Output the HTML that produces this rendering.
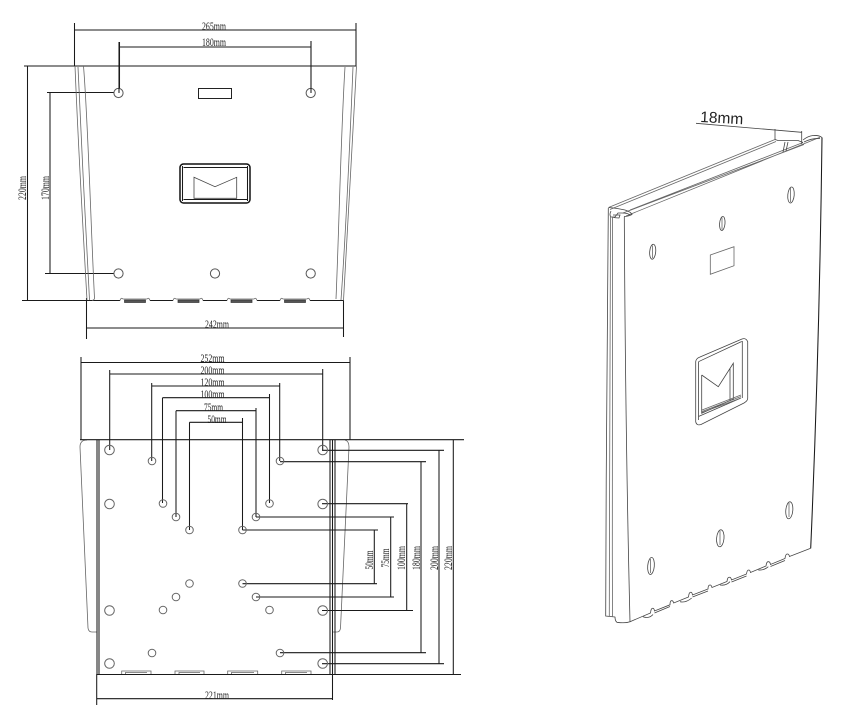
<!DOCTYPE html>
<html><head><meta charset="utf-8"><style>
html,body{margin:0;padding:0;background:#fff}
svg{display:block;filter:blur(.3px)}
text{font-family:"Liberation Serif",serif;fill:#222;font-size:12px}
.d{stroke:#1a1a1a;stroke-width:1.05;fill:none}
.g{stroke:#666;stroke-width:.8;fill:none}
.h{stroke:#555;stroke-width:1;fill:#fff}
.m{stroke:#444;stroke-width:.8;fill:none}
</style></head><body>
<svg width="849" height="720" viewBox="0 0 849 720" xmlns="http://www.w3.org/2000/svg">
<rect width="849" height="720" fill="#fff"/>

<!-- Top view -->
<path class="d" d="M74.5 23V66M356 23V66M74.5 30H356M119.500 42V91M311 41V91M119.500 47H311"/>
<path class="d" d="M24 66H356M22 300.500H120M150 300.500H173M203 300.500H227M257 300.500H280M310 300.500H343"/>
<path class="d" d="M27.500 66V300.500M50 92.500V273.500M47 92.500H118M45 273.500H118"/>
<path class="d" d="M86.500 298V339M343.500 300V337M86.500 328H343.500"/>
<path class="g" d="M75 66C78 140 83 230 87 300M78 67C81 140 86 230 89.500 300M83.500 66C88 120 91 230 94.500 298Q94.500 300 92 300.500"/>
<path class="g" d="M356.500 66C352 140 348 230 343.500 300.500M353 67C350 140 346 230 341 300M345 67C341 130 339 230 336 299"/>
<g class="h"><circle cx="118.500" cy="93" r="4.600"/><circle cx="310.700" cy="93" r="4.600"/><circle cx="118.500" cy="273.500" r="4.600"/><circle cx="215" cy="273.500" r="4.600"/><circle cx="310.700" cy="273.500" r="4.600"/></g>
<path class="d" d="M119 42V93M311 41V93"/>
<rect x="198.500" y="88.500" width="33" height="10" fill="#fff" stroke="#222"/>
<rect x="180" y="164" width="70" height="39" rx="3.500" fill="none" stroke="#111" stroke-width="1.500"/>
<path class="d" d="M182.500 166V201M247.500 166V201M183.500 167.500H247M183.500 199.500H247"/>
<path class="m" d="M194 177.300L215 186.700L236.700 177.300V198.300H194Z"/>
<g fill="#555" stroke="#333" stroke-width=".7">
<rect x="124.500" y="300" width="21" height="2.500"/><rect x="178" y="300" width="21" height="2.500"/><rect x="231" y="300" width="21" height="2.500"/><rect x="284.500" y="300" width="21" height="2.500"/></g>
<path class="g" d="M120 300.500Q121 297 123 299H147Q149 297 150 300.500M173 300.500Q174 297 176 299H200Q202 297 203 300.500M227 300.500Q228 297 230 299H254Q256 297 257 300.500M280 300.500Q281 297 283 299H307Q309 297 310 300.500"/>
<text x="202" y="30" textLength="24" lengthAdjust="spacingAndGlyphs">265mm</text>
<text x="202" y="46" textLength="24" lengthAdjust="spacingAndGlyphs">180mm</text>
<text x="205" y="328" textLength="24" lengthAdjust="spacingAndGlyphs">242mm</text>
<text transform="translate(26 188) rotate(-90)" text-anchor="middle" textLength="24" lengthAdjust="spacingAndGlyphs">220mm</text>
<text transform="translate(49 188) rotate(-90)" text-anchor="middle" textLength="24" lengthAdjust="spacingAndGlyphs">170mm</text>

<!-- Bottom view -->
<path class="g" d="M97 632H92Q88.500 632 88 628L80 447Q80 440 87 440M333 632H337Q340 632 340.500 628L349 447Q349 441 345 440"/>
<path class="d" d="M81 357V440M350 357V440M81 362.500H350"/>
<path class="d" d="M109.700 370V450M322.700 369V450M109.700 374H322.700"/>
<path class="d" d="M151.700 383V461M279.700 383V461M151.700 386H279.700"/>
<path class="d" d="M162.500 397.700V503M269.500 394V503M162.500 397.700H269.500"/>
<path class="d" d="M176 410.700V517M256 408V517M176 410.700H256"/>
<path class="d" d="M189.500 422.300V530M242.500 418V530M189.500 422.300H242.500"/>
<path class="d" d="M80 439.700H464M97 674.500H461"/>
<path class="d" d="M97 440V675M99 440V674"/>
<path class="d" d="M330 440V674M332.500 440V700M335 440V674"/>
<path class="d" d="M96.700 674V705M96.700 698.700H332.700"/>
<path class="d" d="M242.500 530H378M242.500 583.700H377M374.300 530V583.700"/>
<path class="d" d="M256 517H394M256 597H394M390.700 517V597"/>
<path class="d" d="M322 503.700H408M322 610.500H413M406.700 503.700V610.500"/>
<path class="d" d="M280 461.700H426M280 652.700H426M421 461.700V652.700"/>
<path class="d" d="M322 450.300H444M322 663.700H444M439 450.300V663.700"/>
<path class="d" d="M453.300 440V674"/>
<g fill="none" stroke="#666" stroke-width="1">
<circle cx="109.500" cy="450" r="4.800"/><circle cx="322.700" cy="450" r="4.800"/><circle cx="109.500" cy="504" r="4.800"/><circle cx="322.700" cy="504" r="4.800"/><circle cx="109.500" cy="610.500" r="4.800"/><circle cx="322.700" cy="610.500" r="4.800"/><circle cx="109.500" cy="663.500" r="4.800"/><circle cx="322.700" cy="663.500" r="4.800"/>
<circle cx="152" cy="461" r="3.800"/><circle cx="280" cy="461" r="3.800"/><circle cx="163" cy="503.500" r="3.800"/><circle cx="269.500" cy="503.500" r="3.800"/><circle cx="176" cy="517" r="3.800"/><circle cx="256" cy="517" r="3.800"/><circle cx="189.500" cy="530" r="3.800"/><circle cx="242.500" cy="530" r="3.800"/><circle cx="189.500" cy="583.500" r="3.800"/><circle cx="242.500" cy="583.500" r="3.800"/><circle cx="176" cy="597" r="3.800"/><circle cx="256" cy="597" r="3.800"/><circle cx="163" cy="610" r="3.800"/><circle cx="269.500" cy="610" r="3.800"/><circle cx="152" cy="653" r="3.800"/><circle cx="280" cy="653" r="3.800"/>
</g>
<path class="g" d="M121.700 674V671H151V674M125.500 674V672.500H147M175 674V671H204V674M179 674V672.500H200M227.700 674V671H257.700V674M231.500 674V672.500H254M281.700 674V671H311V674M285.500 674V672.500H307"/>
<text x="200.500" y="362" textLength="24" lengthAdjust="spacingAndGlyphs">252mm</text>
<text x="200.500" y="374" textLength="24" lengthAdjust="spacingAndGlyphs">200mm</text>
<text x="200.500" y="386" textLength="24" lengthAdjust="spacingAndGlyphs">120mm</text>
<text x="200.500" y="398" textLength="24" lengthAdjust="spacingAndGlyphs">100mm</text>
<text x="204" y="411" textLength="19" lengthAdjust="spacingAndGlyphs">75mm</text>
<text x="207.500" y="423" textLength="19" lengthAdjust="spacingAndGlyphs">50mm</text>
<text x="205" y="699" textLength="24" lengthAdjust="spacingAndGlyphs">221mm</text>
<text transform="translate(373 560) rotate(-90)" text-anchor="middle" textLength="19" lengthAdjust="spacingAndGlyphs">50mm</text>
<text transform="translate(389 558) rotate(-90)" text-anchor="middle" textLength="19" lengthAdjust="spacingAndGlyphs">75mm</text>
<text transform="translate(405 558) rotate(-90)" text-anchor="middle" textLength="24" lengthAdjust="spacingAndGlyphs">100mm</text>
<text transform="translate(420 558) rotate(-90)" text-anchor="middle" textLength="24" lengthAdjust="spacingAndGlyphs">180mm</text>
<text transform="translate(438 558) rotate(-90)" text-anchor="middle" textLength="24" lengthAdjust="spacingAndGlyphs">200mm</text>
<text transform="translate(452 558) rotate(-90)" text-anchor="middle" textLength="24" lengthAdjust="spacingAndGlyphs">220mm</text>

<!-- 3D view -->
<text transform="translate(700 122) rotate(3)" style="font-family:'Liberation Sans',sans-serif;font-size:15.500px">18mm</text>
<path class="m" d="M696 123.300L801.700 132.300M775 129V140M801.700 131V144"/>
<path class="g" d="M608.500 207.500L775 139.500M610 209.500L776 141.500"/>
<path class="g" d="M630 210L803 142.500M623 213L804 144.500M626 216L820 137.300"/>
<path class="m" d="M775 139.500L778 140.500H798L803 142.500M803 140Q808 136 813 135.500Q819 135 822 137.500M804 142Q812 138 820 138.500M785 142L783 152M788 142L786 151"/>
<path class="m" d="M608.500 207.500Q616 208 625 210Q631 212 632 214.500Q628 216.500 624 216.500M611 211Q609 215 611 217H615L618 213H622Q628 213 630 215M613 215H620L619 218Q615 218 612 217"/>
<path class="d" d="M822 137.500C820 300 815 450 810.700 548.300"/>
<path class="m" d="M608.300 208C607 340 606 480 605.700 616L615 617"/>
<path class="g" d="M610.500 217C610 340 609.500 480 609.300 616.500M612.500 217C612 340 612 480 612.500 617"/>
<path class="m" d="M624.300 216.700C625 350 627 500 630 621.700Q625 623.500 617 622.300Q615 621 615 616.700"/>
<path class="m" d="M630 621.700L650.500 613Q651 608 652.700 608.300Q654 608 654.500 611L670 604.800Q670 600.500 671.700 600.700Q673 600.500 673.700 603L688.500 597Q689 592 690.700 592.300Q692 592 692.500 595L708 589Q708 585 710 585Q711.500 585 712 587.500L727 581.500Q727.500 577 729.300 577.300Q731 577 731.500 580L746.500 574Q747 570 748.700 570Q750 570 750.500 572.500L766 566Q766.500 561.500 768.300 561.700Q770 561.500 770.500 564.500L785 558.500Q785.500 554 787.300 554Q789 554 789.500 556.500L810.700 548.300"/>
<path class="m" d="M643 616.700Q649 619 653 614.500M654.500 613L670 606.500M680 601.700Q686 603 691.700 598M692.500 597L708 591M720 585Q726 586 730 581.700M731.500 582L746.500 576M758.300 570Q764 570.500 768.300 566.700M770.500 566.500L785 560.500"/>
<g fill="#fff" stroke="#444" stroke-width=".8">
<ellipse cx="652.700" cy="251.700" rx="3" ry="7.500" transform="rotate(5 652.700 251.700)"/>
<ellipse cx="722.300" cy="223.500" rx="2.700" ry="7" transform="rotate(5 722.300 223.500)"/>
<ellipse cx="791" cy="195" rx="3.200" ry="8" transform="rotate(5 791 195)"/>
<ellipse cx="651" cy="566" rx="3.300" ry="8.500" transform="rotate(5 651 566)"/>
<ellipse cx="720.300" cy="538.300" rx="3.700" ry="8.500" transform="rotate(5 720.300 538.300)"/>
<ellipse cx="789.300" cy="510.300" rx="3.500" ry="8.500" transform="rotate(5 789.300 510.300)"/>
</g>
<path class="g" d="M652.500 245.500V258M722 217.500V229.500M790.500 188V202M650.500 559V573M720 531V545M789 503V517"/>
<path class="g" d="M710.300 255L734 246.700V265.700L710.300 274.300Z"/>
<path class="m" d="M695.700 361.700Q696 358.500 700 357L742 339Q746 337.500 747.700 341.700V398.300Q747.700 401 744 403L701 424.500Q696.500 426 695.700 421.700Z"/>
<path class="m" d="M698.500 361.700L741.700 341.500M742.300 341V398M741 398L698.500 416.500M698.500 361.700V420"/>
<path class="m" d="M701.700 375L718.300 386.700L733.300 363.300V400M733.300 399L701.700 413.300V375M730 368V401"/>
<path class="g" d="M702 410L741 395M702 411.500L741 396.500M702 412.500L741 398"/>
</svg>
</body></html>
